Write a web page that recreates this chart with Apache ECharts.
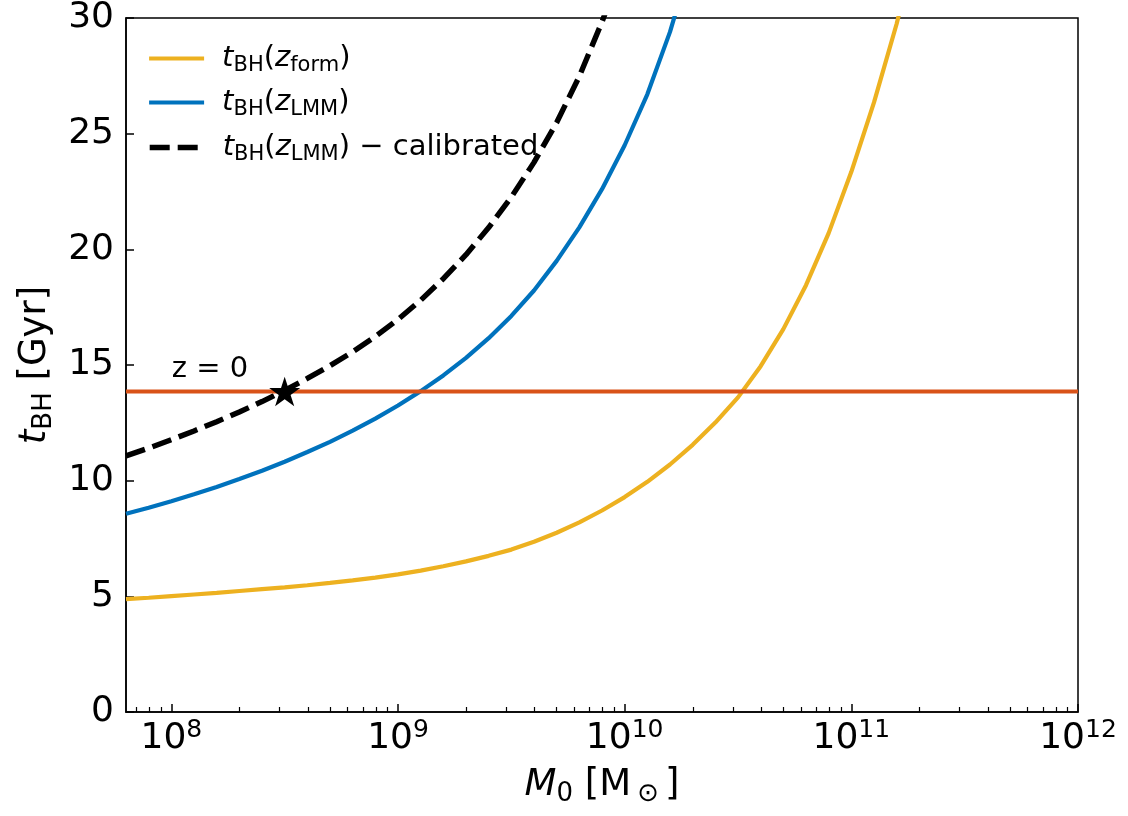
<!DOCTYPE html>
<html>
<head>
<meta charset="utf-8">
<script src="https://cdn.jsdelivr.net/npm/echarts@6/dist/echarts.min.js"></script>
<style>
html,body{margin:0;padding:0;background:#ffffff;}
#chart{width:1128px;height:816px;}
</style>
</head>
<body>
<div id="chart"></div>
<script>
// ---- data (x values are log10 of M0 / Msun) ----
const xTickExponents = [8, 9, 10, 11, 12];
const yTickStep = 5;

const formLogM = [7.8, 7.9, 8.0, 8.1, 8.2, 8.3, 8.4, 8.5, 8.6, 8.7, 8.8, 8.9, 9.0, 9.1, 9.2, 9.3, 9.4, 9.5, 9.6, 9.7, 9.8, 9.9, 10.0, 10.1, 10.2, 10.3, 10.4, 10.5, 10.6, 10.7, 10.8, 10.9, 11.0, 11.1, 11.2, 11.3];
const formT    = [4.88, 4.94, 5.01, 5.08, 5.15, 5.23, 5.31, 5.39, 5.48, 5.58, 5.69, 5.81, 5.95, 6.11, 6.30, 6.51, 6.75, 7.02, 7.36, 7.75, 8.20, 8.71, 9.29, 9.95, 10.70, 11.55, 12.51, 13.60, 14.95, 16.55, 18.45, 20.70, 23.35, 26.35, 29.75, 33.7];

const lmmLogM = [7.8, 7.9, 8.0, 8.1, 8.2, 8.3, 8.4, 8.5, 8.6, 8.7, 8.8, 8.9, 9.0, 9.1, 9.2, 9.3, 9.4, 9.5, 9.6, 9.7, 9.8, 9.9, 10.0, 10.1, 10.2, 10.3];
const lmmT    = [8.57, 8.83, 9.11, 9.41, 9.73, 10.07, 10.43, 10.82, 11.24, 11.68, 12.16, 12.68, 13.25, 13.87, 14.55, 15.31, 16.16, 17.12, 18.22, 19.50, 20.95, 22.60, 24.50, 26.70, 29.40, 32.70];

const calLogM = [7.8, 7.9, 8.0, 8.1, 8.2, 8.3, 8.4, 8.5, 8.6, 8.7, 8.8, 8.9, 9.0, 9.1, 9.2, 9.3, 9.4, 9.5, 9.6, 9.7, 9.8, 9.9, 10.0];
const calT    = [11.07, 11.41, 11.77, 12.15, 12.55, 12.97, 13.42, 13.90, 14.42, 14.97, 15.57, 16.23, 16.97, 17.80, 18.73, 19.77, 20.94, 22.26, 23.76, 25.48, 27.48, 29.83, 32.50];

const zNowT = 13.85;
const starLogM = 8.5;
const starT = 13.85;
const zLabelText = 'z = 0';
const zLabelLogM = 8.0;
const zLabelT = 14.8;

const xMinLog = 7.8;
const xMaxLog = 12;
const yMin = 0;
const yMax = 30;

// ---- build ----
const F = 'DejaVu Sans';
const pairs = (xs, ys) => xs.map((x, i) => [x, ys[i]]);

const minorTicks = [];
for (let n = 7; n < 12; n++) {
  for (let k = 2; k <= 9; k++) {
    const v = n + Math.log10(k);
    if (v >= xMinLog && v <= xMaxLog) minorTicks.push(v);
  }
}

const LF = 29, LS = 21;
const legendRich = {
  p: {fontFamily: F, fontSize: LF, lineHeight: 36, color: '#000', padding: [0, 0, 0, 13]},
  n: {fontFamily: F, fontSize: LF, lineHeight: 36, color: '#000'},
  i: {fontFamily: F, fontSize: LF, fontStyle: 'italic', lineHeight: 36, color: '#000'},
  s: {fontFamily: F, fontSize: LS, lineHeight: 22, verticalAlign: 'bottom', color: '#000'}
};
const legendNames = {
  'form': '{p|}{i|t}{s|BH}{n|(}{i|z}{s|form}{n|)}',
  'lmm': '{p|}{i|t}{s|BH}{n|(}{i|z}{s|LMM}{n|)}',
  'cal': '{p|}{i|t}{s|BH}{n|(}{i|z}{s|LMM}{n|) − calibrated}'
};
function mkLegend(name, top, lineStyle) {
  return {
    data: [name], left: 147, top: top, orient: 'vertical', padding: 0,
    itemWidth: 55, itemHeight: 14, selectedMode: false,
    itemStyle: {color: 'rgba(0,0,0,0)', borderWidth: 0, opacity: 0},
    lineStyle: lineStyle,
    formatter: n => legendNames[n],
    textStyle: {fontFamily: F, fontSize: LF, color: '#000', rich: legendRich}
  };
}

const TF = 36, TS = 25, NF = 37, NS = 26;

const chart = echarts.init(document.getElementById('chart'), null, {renderer: 'canvas'});
const option = {
  backgroundColor: '#ffffff',
  animation: false,
  textStyle: {fontFamily: F},
  grid: {left: 126, right: 50, top: 18, bottom: 104, show: true, borderColor: '#000', borderWidth: 1.5, backgroundColor: 'transparent'},
  legend: [
    mkLegend('form', 44, {width: 4.2, color: '#EDB120', type: 'solid', opacity: 1}),
    mkLegend('lmm', 88, {width: 4.2, color: '#0072BD', type: 'solid', opacity: 1}),
    mkLegend('cal', 133, {width: 5.4, color: '#000', type: [20, 8], opacity: 1})
  ],
  xAxis: [
    {
      type: 'value', min: xMinLog, max: xMaxLog, position: 'bottom', gridIndex: 0,
      axisLine: {show: true, onZero: false, lineStyle: {color: '#000', width: 1.5}},
      splitLine: {show: false},
      axisTick: {show: true, inside: true, length: 8, customValues: xTickExponents, lineStyle: {color: '#000', width: 1.5}},
      axisLabel: {
        show: true, customValues: xTickExponents, margin: 6,
        formatter: v => '{b|10}{s|' + Math.round(v) + '}',
        rich: {
          b: {fontFamily: F, fontSize: TF, lineHeight: 42, color: '#000'},
          s: {fontFamily: F, fontSize: TS, lineHeight: 26, verticalAlign: 'top', color: '#000'}
        }
      },
      name: '{i|M}{s|0}{n| [M}{s2|⊙}{n|]}',
      nameLocation: 'middle', nameGap: 51,
      nameTextStyle: {
        fontFamily: F, fontSize: NF, color: '#000',
        rich: {
          i: {fontFamily: F, fontSize: NF, fontStyle: 'italic', lineHeight: 44, color: '#000'},
          n: {fontFamily: F, fontSize: NF, lineHeight: 44, color: '#000'},
          s: {fontFamily: F, fontSize: NS, lineHeight: 28, verticalAlign: 'bottom', color: '#000'},
          s2: {fontFamily: F, fontSize: NS, lineHeight: 28, verticalAlign: 'bottom', color: '#000', padding: [0, 6, 0, 6]}
        }
      }
    },
    {
      type: 'value', min: xMinLog, max: xMaxLog, position: 'bottom', gridIndex: 0,
      axisLine: {show: false, onZero: false},
      splitLine: {show: false},
      axisTick: {show: true, inside: true, length: 5, customValues: minorTicks, lineStyle: {color: '#000', width: 1.2}},
      axisLabel: {show: false}
    }
  ],
  yAxis: {
    type: 'value', min: yMin, max: yMax, interval: yTickStep,
    axisLine: {show: true, onZero: false, lineStyle: {color: '#000', width: 1.5}},
    splitLine: {show: false},
    axisTick: {show: true, inside: true, length: 8, lineStyle: {color: '#000', width: 1.5}},
    axisLabel: {fontFamily: F, fontSize: TF, color: '#000', margin: 12},
    name: '{i|t}{s|BH}{n| [Gyr]}',
    nameLocation: 'middle', nameGap: 59, nameRotate: 90,
    nameTextStyle: {
      fontFamily: F, fontSize: NF, color: '#000',
      rich: {
        i: {fontFamily: F, fontSize: NF, fontStyle: 'italic', lineHeight: 44, color: '#000'},
        n: {fontFamily: F, fontSize: NF, lineHeight: 44, color: '#000'},
        s: {fontFamily: F, fontSize: NS, lineHeight: 28, verticalAlign: 'bottom', color: '#000'}
      }
    }
  },
  series: [
    {
      name: 'form', type: 'line', xAxisIndex: 0, data: pairs(formLogM, formT),
      symbol: 'none', smooth: false, clip: true,
      lineStyle: {color: '#EDB120', width: 4.2}, itemStyle: {color: '#EDB120'}, z: 2
    },
    {
      name: 'lmm', type: 'line', xAxisIndex: 0, data: pairs(lmmLogM, lmmT),
      symbol: 'none', smooth: false, clip: true,
      lineStyle: {color: '#0072BD', width: 4.2}, itemStyle: {color: '#0072BD'}, z: 3
    },
    {
      name: 'cal', type: 'line', xAxisIndex: 0, data: pairs(calLogM, calT),
      symbol: 'none', smooth: false, clip: true,
      lineStyle: {color: '#000', width: 5.4, type: [20, 8]}, itemStyle: {color: '#000'}, z: 4
    },
    {
      name: 'z0', type: 'line', xAxisIndex: 0, data: [[xMinLog, zNowT], [xMaxLog, zNowT]],
      symbol: 'none', lineStyle: {color: '#D95319', width: 4}, itemStyle: {color: '#D95319'}, z: 5, silent: true
    },
    {
      name: 'zlabel', type: 'scatter', xAxisIndex: 0, data: [[zLabelLogM, zLabelT]],
      symbolSize: 1, itemStyle: {color: 'rgba(0,0,0,0)', opacity: 1}, silent: true, z: 6,
      label: {show: true, position: 'right', distance: 0, formatter: zLabelText, fontFamily: F, fontSize: 29, color: '#000', opacity: 1}
    },
    {
      name: 'star', type: 'scatter', xAxisIndex: 0, data: [[starLogM, starT]],
      symbol: 'path://M50,0 L61.2,34.5 L97.6,34.5 L68.2,55.9 L79.4,90.5 L50,69.1 L20.6,90.5 L31.8,55.9 L2.4,34.5 L38.8,34.5 Z',
      symbolSize: 31, symbolKeepAspect: true, itemStyle: {color: '#000', opacity: 1}, z: 7, silent: true
    }
  ]
};
chart.setOption(option);
</script>
</body>
</html>
